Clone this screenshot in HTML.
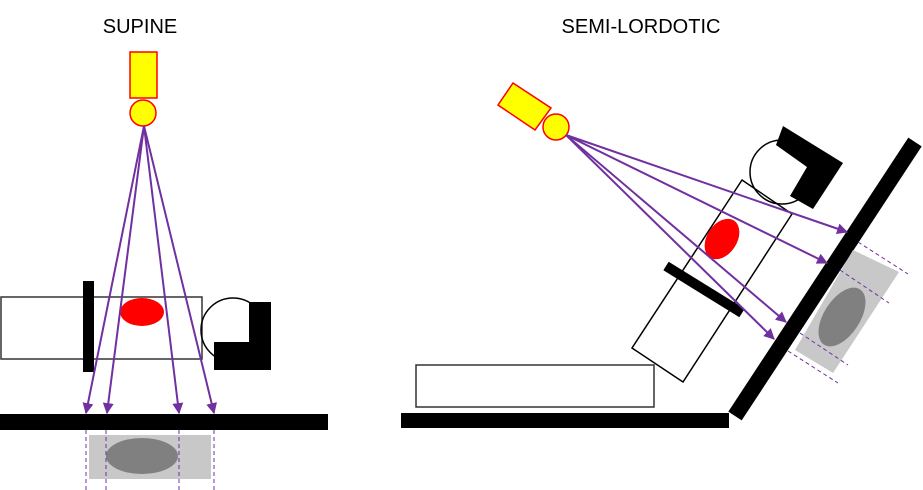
<!DOCTYPE html>
<html><head><style>html,body{margin:0;padding:0;background:#fff;width:923px;height:490px;overflow:hidden}</style></head>
<body>
<svg width="923" height="490" viewBox="0 0 923 490" xmlns="http://www.w3.org/2000/svg">
<defs>
<marker id="a" viewBox="0 0 10 10" refX="9" refY="5" markerWidth="5.5" markerHeight="5.5" orient="auto"><path d="M0,0 L10,5 L0,10 z" fill="#7030a0"/></marker>
</defs>
<text x="140" y="33" font-family="Liberation Sans, sans-serif" font-size="20" text-anchor="middle">SUPINE</text>
<text x="641" y="33" font-family="Liberation Sans, sans-serif" font-size="20" text-anchor="middle">SEMI-LORDOTIC</text>
<!-- LEFT -->
<rect x="130" y="52" width="27" height="46" fill="#ff0" stroke="#f00" stroke-width="1.5"/>
<circle cx="143" cy="113" r="13" fill="#ff0" stroke="#f00" stroke-width="1.5"/>
<rect x="1" y="297" width="201" height="62" fill="none" stroke="#333" stroke-width="1.5"/>
<rect x="83" y="281" width="11" height="91" fill="#000"/>
<ellipse cx="142" cy="312" rx="22" ry="14" fill="#f00"/>
<circle cx="233" cy="330" r="32" fill="none" stroke="#000" stroke-width="1.5"/>
<path d="M249,302 H271 V370 H214 V342 H249 Z" fill="#000"/>
<rect x="89" y="435" width="122" height="44" fill="#c8c8c8"/>
<ellipse cx="142" cy="456" rx="36" ry="18" fill="#808080"/>
<g stroke="#7030a0" stroke-width="1" stroke-dasharray="4,3">
<line x1="86" y1="430" x2="86" y2="490"/><line x1="106" y1="430" x2="106" y2="490"/>
<line x1="179" y1="430" x2="179" y2="490"/><line x1="214" y1="430" x2="214" y2="490"/>
</g>
<rect x="0" y="414" width="328" height="16" fill="#000"/>
<g stroke="#7030a0" stroke-width="2" fill="none" marker-end="url(#a)">
<line x1="144" y1="126" x2="86" y2="413"/><line x1="144" y1="126" x2="107" y2="413"/>
<line x1="144" y1="126" x2="179" y2="413"/><line x1="144" y1="126" x2="214" y2="413"/>
</g>
<!-- RIGHT -->
<polygon points="513,83 551,108 535,130 498,105" fill="#ff0" stroke="#f00" stroke-width="1.5"/>
<circle cx="556" cy="127" r="13" fill="#ff0" stroke="#f00" stroke-width="1.5"/>
<rect x="416" y="365" width="238" height="42" fill="none" stroke="#333" stroke-width="1.5"/>
<rect x="401" y="413" width="328" height="15" fill="#000"/>
<line x1="735" y1="416" x2="915" y2="142" stroke="#000" stroke-width="16"/>
<polygon points="742,180 792,214 683,382 632,348" fill="none" stroke="#000" stroke-width="1.5"/>
<circle cx="782" cy="172" r="32" fill="none" stroke="#000" stroke-width="1.5"/>
<polygon points="783,126 843,163 813,209 790,196 807,167 776,145" fill="#000"/>
<ellipse cx="722" cy="239" rx="15" ry="22" fill="#f00" transform="rotate(33 722 239)"/>
<line x1="666" y1="266" x2="742" y2="313" stroke="#000" stroke-width="10"/>
<polygon points="853,250 899,272 833,373 795,350" fill="#c8c8c8"/>
<ellipse cx="842" cy="317" rx="18" ry="33" fill="#808080" transform="rotate(33 842 317)"/>
<g stroke="#7030a0" stroke-width="1" stroke-dasharray="4,3">
<line x1="858" y1="242" x2="908" y2="274"/><line x1="840" y1="270" x2="889" y2="303"/>
<line x1="800" y1="333" x2="848" y2="365"/><line x1="788" y1="351" x2="838" y2="383"/>
</g>
<g stroke="#7030a0" stroke-width="2" fill="none" marker-end="url(#a)">
<line x1="566" y1="135" x2="847" y2="232"/><line x1="566" y1="135" x2="827" y2="263"/>
<line x1="566" y1="135" x2="786" y2="322"/><line x1="566" y1="135" x2="774" y2="339"/>
</g>
</svg>
</body></html>
